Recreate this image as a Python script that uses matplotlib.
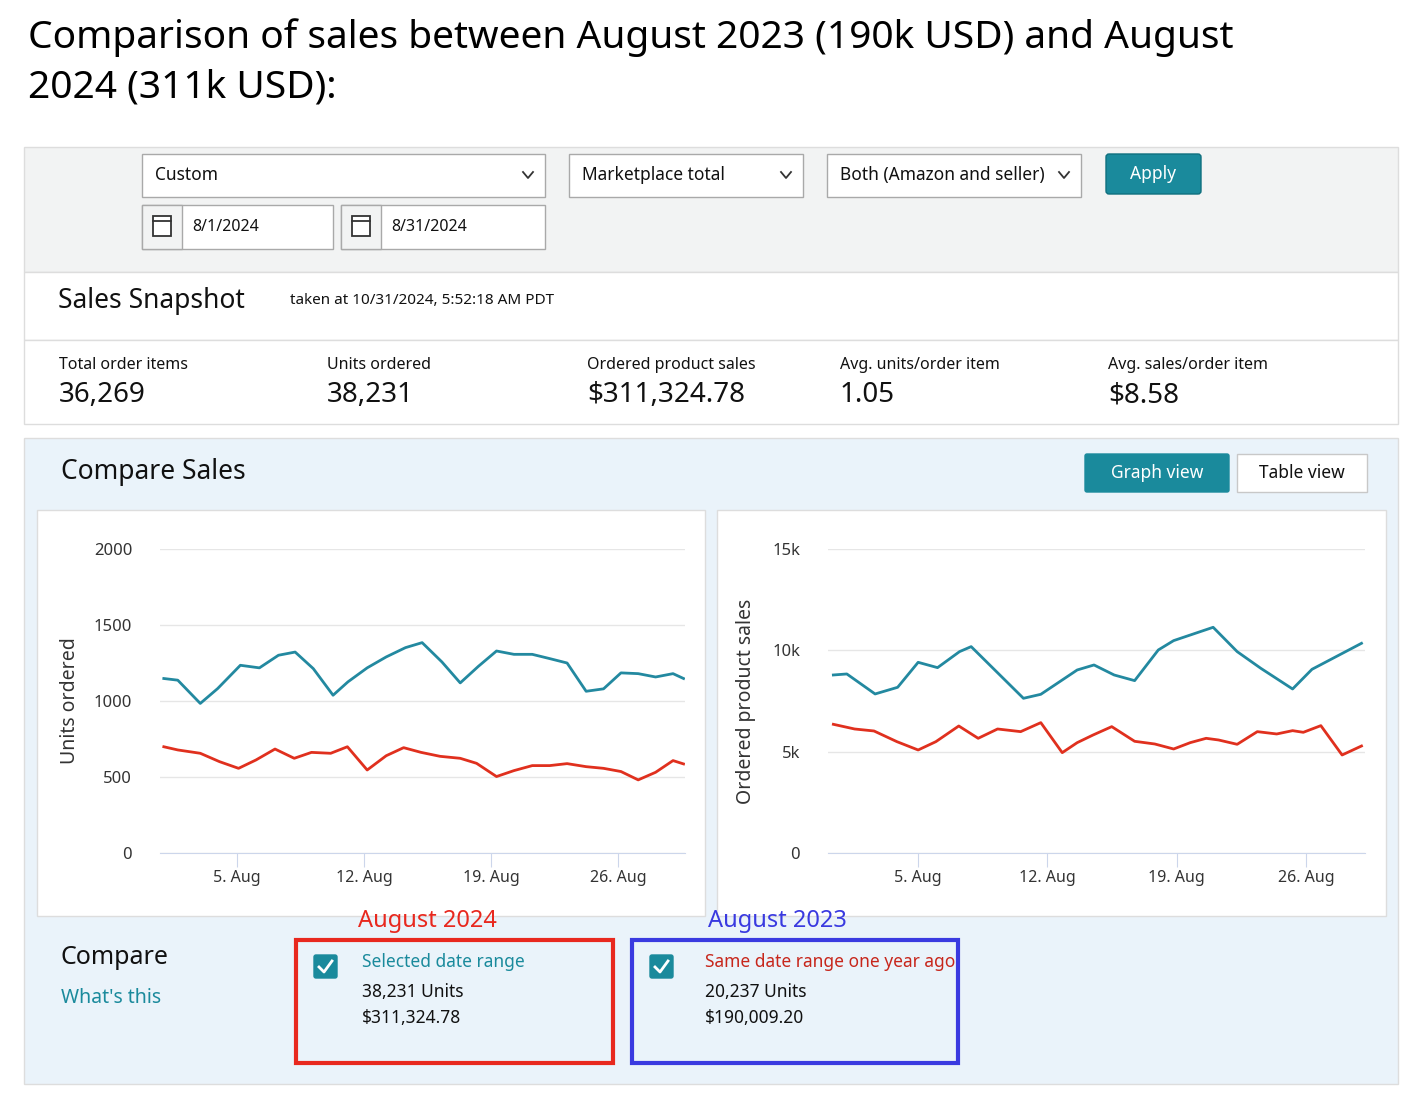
import matplotlib.pyplot as plt
from matplotlib.patches import Rectangle, FancyBboxPatch

plt.rcParams['font.family'] = ['Noto Sans', 'DejaVu Sans']

# ---- data ----
units_2024_days = [0.97, 1.74, 2.98, 3.94, 5.19, 6.24, 7.29, 8.21, 9.21, 10.3, 11.12, 12.18, 13.23, 14.29, 15.21,
                   16.3, 17.31, 18.31, 19.31, 20.27, 21.28, 22.24, 23.2, 24.25, 25.21, 26.17, 27.12, 28.08, 29.04, 29.62]
units_2024 = [1148, 1137, 984, 1082, 1235, 1218, 1301, 1322, 1213, 1038, 1126, 1218, 1290, 1351, 1384,
              1257, 1119, 1228, 1329, 1307, 1307, 1279, 1250, 1064, 1080, 1185, 1180, 1158, 1180, 1148]
units_2023_days = [0.97, 1.74, 2.98, 4.04, 5.09, 6.05, 7.1, 8.16, 9.11, 10.17, 11.09, 12.18, 13.23, 14.19, 15.15,
                   16.2, 17.31, 18.21, 19.31, 20.27, 21.28, 22.24, 23.2, 24.25, 25.21, 26.17, 27.12, 28.08, 29.04, 29.62]
units_2023 = [699, 678, 656, 601, 557, 612, 684, 623, 662, 656, 699, 546, 640, 693, 662,
              636, 623, 590, 503, 542, 575, 575, 588, 568, 557, 536, 481, 531, 608, 586]

sales_2024_days = [0.41, 1.14, 2.67, 3.89, 5.0, 6.05, 7.24, 7.87, 10.7, 11.64, 13.61, 14.52, 15.61, 16.72,
                   18.0, 18.83, 20.97, 22.27, 23.55, 25.27, 26.32, 29.0]
sales_2024 = [8784, 8834, 7847, 8176, 9409, 9146, 9936, 10183, 7633, 7830, 9031, 9278, 8784, 8505,
              10018, 10479, 11137, 9936, 9113, 8093, 9064, 10347]
sales_2023_days = [0.41, 1.56, 2.61, 3.85, 5.0, 5.96, 7.2, 8.25, 9.3, 10.55, 11.64, 12.8, 13.61, 14.47, 15.48,
                   16.72, 17.81, 18.83, 19.73, 20.59, 21.26, 22.27, 23.36, 24.41, 25.27, 25.85, 26.8, 27.95, 29.0]
sales_2023 = [6350, 6119, 6021, 5494, 5083, 5494, 6267, 5659, 6119, 5988, 6432, 4951, 5445, 5823, 6235,
              5511, 5379, 5132, 5445, 5659, 5577, 5363, 5988, 5873, 6037, 5955, 6284, 4836, 5280]

tick_days = [5, 12, 19, 26]
tick_labels = ["5. Aug", "12. Aug", "19. Aug", "26. Aug"]

metric_names = ["Total order items", "Units ordered", "Ordered product sales",
                "Avg. units/order item", "Avg. sales/order item"]
metric_values = ["36,269", "38,231", "$311,324.78", "1.05", "$8.58"]

TEAL = "#1a8a9c"
LINE_TEAL = "#2389a0"
LINE_RED = "#e0301e"
W, H = 1423, 1105

fig = plt.figure(figsize=(W / 100, H / 100), dpi=100)
bg = fig.add_axes([0, 0, 1, 1])
bg.set_xlim(0, W)
bg.set_ylim(H, 0)
bg.axis("off")


def box(x0, y0, x1, y1, fc="white", ec="#c8c8c8", lw=1.0, z=1):
    bg.add_patch(Rectangle((x0, y0), x1 - x0, y1 - y0, facecolor=fc, edgecolor=ec, linewidth=lw, zorder=z))


def txt(x, y, s, size=12, color="#111111", weight="normal", **kw):
    bg.text(x, y, s, fontsize=size, color=color, fontweight=weight, va="center", ha=kw.pop("ha", "left"), **kw)


# title
txt(28, 38, "Comparison of sales between August 2023 (190k USD) and August", 28, "black", "bold")
txt(28, 88, "2024 (311k USD):", 28, "black", "bold")

# filter panel
box(24, 147, 1398, 272, fc="#f2f3f3", ec="#dddddd")
for x0, x1, label in [(142, 545, "Custom"), (569, 803, "Marketplace total"), (827, 1081, "Both (Amazon and seller)")]:
    box(x0, 154, x1, 197, ec="#a9a9a9", z=2)
    txt(x0 + 13, 175, label, 12.5)
    bg.plot([x1 - 22, x1 - 17, x1 - 12], [172, 178, 172], color="#333333", lw=1.3, zorder=3)
bg.add_patch(FancyBboxPatch((1106, 154), 95, 40, boxstyle="round,pad=0,rounding_size=3",
                            facecolor=TEAL, edgecolor="#0f6f7e", zorder=2))
txt(1153, 174, "Apply", 12.5, "white", ha="center")
for x0, x1, label in [(142, 333, "8/1/2024"), (341, 545, "8/31/2024")]:
    box(x0, 205, x1, 249, ec="#a9a9a9", z=2)
    box(x0, 205, x0 + 40, 249, fc="#f2f3f3", ec="#a9a9a9", z=2)
    box(x0 + 11, 216, x0 + 29, 236, fc="white", ec="#333333", lw=1.3, z=3)
    bg.plot([x0 + 11, x0 + 29], [221, 221], color="#333333", lw=1.3, zorder=3)
    txt(x0 + 50, 227, label, 11.5)

# snapshot
box(24, 272, 1398, 340, ec="#dddddd")
txt(58, 301, "Sales Snapshot", 19)
txt(290, 300, "taken at 10/31/2024, 5:52:18 AM PDT", 11)
box(24, 340, 1398, 424, ec="#dddddd")
for x, name, val in zip([59, 327, 587, 840, 1108], metric_names, metric_values):
    txt(x, 365, name, 11.5)
    txt(x, 395, val, 20)

# compare sales panel
box(24, 438, 1398, 1084, fc="#eaf3fa", ec="#dddddd")
txt(61, 472, "Compare Sales", 19)
bg.add_patch(FancyBboxPatch((1085, 454), 144, 38, boxstyle="round,pad=0,rounding_size=2",
                            facecolor=TEAL, edgecolor=TEAL, zorder=2))
txt(1157, 473, "Graph view", 12.5, "white", ha="center")
box(1237, 454, 1367, 492, ec="#c8c8c8", z=2)
txt(1302, 473, "Table view", 12.5, ha="center")
box(37, 510, 705, 916, ec="#dddddd")
box(717, 510, 1386, 916, ec="#dddddd")


def add_chart(px0, px1, ylim, yticks, ylabels, series, xlim, ylab, ylab_x):
    ax = fig.add_axes([px0 / W, 1 - 853 / H, (px1 - px0) / W, (853 - 549) / H])
    ax.set_facecolor("none")
    for days, vals, c in series:
        ax.plot(days, vals, color=c, lw=2)
    ax.set_xlim(*xlim)
    ax.set_ylim(*ylim)
    ax.set_yticks(yticks)
    ax.set_yticklabels(ylabels, fontsize=12, color="#333333")
    ax.set_xticks(tick_days)
    ax.set_xticklabels(tick_labels, fontsize=11.5, color="#333333")
    ax.grid(axis="y", color="#e6e6e6", lw=1)
    for s in ["top", "right", "left"]:
        ax.spines[s].set_visible(False)
    ax.spines["bottom"].set_color("#ccd6eb")
    ax.tick_params(axis="y", length=0, pad=20)
    ax.tick_params(axis="x", color="#ccd6eb", length=10, pad=2)
    bg.text(ylab_x, 701, ylab, rotation=90, fontsize=14, color="#333333", ha="center", va="center")


add_chart(160, 685, (0, 2000), [0, 500, 1000, 1500, 2000], ["0", "500", "1000", "1500", "2000"],
          [(units_2024_days, units_2024, LINE_TEAL), (units_2023_days, units_2023, LINE_RED)],
          (0.76, 29.7), "Units ordered", 70)
add_chart(828, 1365, (0, 15000), [0, 5000, 10000, 15000], ["0", "5k", "10k", "15k"],
          [(sales_2024_days, sales_2024, LINE_TEAL), (sales_2023_days, sales_2023, LINE_RED)],
          (0.12, 29.19), "Ordered product sales", 746)

# compare legend area
txt(61, 958, "Compare", 18)
txt(61, 998, "What's this", 14, TEAL)
for x0, x1, ec, head, hc, tx, units, money, lab_x, lab in [
        (296, 613, "#e8281e", "Selected date range", TEAL, 362, "38,231 Units", "$311,324.78", 358, "August 2024"),
        (632, 958, "#3a3ae0", "Same date range one year ago", "#c7261b", 705, "20,237 Units", "$190,009.20", 708, "August 2023")]:
    box(x0, 940, x1, 1063, fc="none", ec=ec, lw=3, z=3)
    txt(lab_x, 921, lab, 17, ec)
    bg.add_patch(FancyBboxPatch((x0 + 18, 955), 23, 23, boxstyle="round,pad=0,rounding_size=2",
                                facecolor=TEAL, edgecolor=TEAL, zorder=3))
    bg.plot([x0 + 23, x0 + 28, x0 + 36], [967, 972, 961], color="white", lw=2, zorder=4)
    txt(tx, 962, head, 12.5, hc)
    txt(tx, 992, units, 12.5)
    txt(tx, 1018, money, 12.5, weight="bold")

fig.savefig("out.png", dpi=100, facecolor="white")
